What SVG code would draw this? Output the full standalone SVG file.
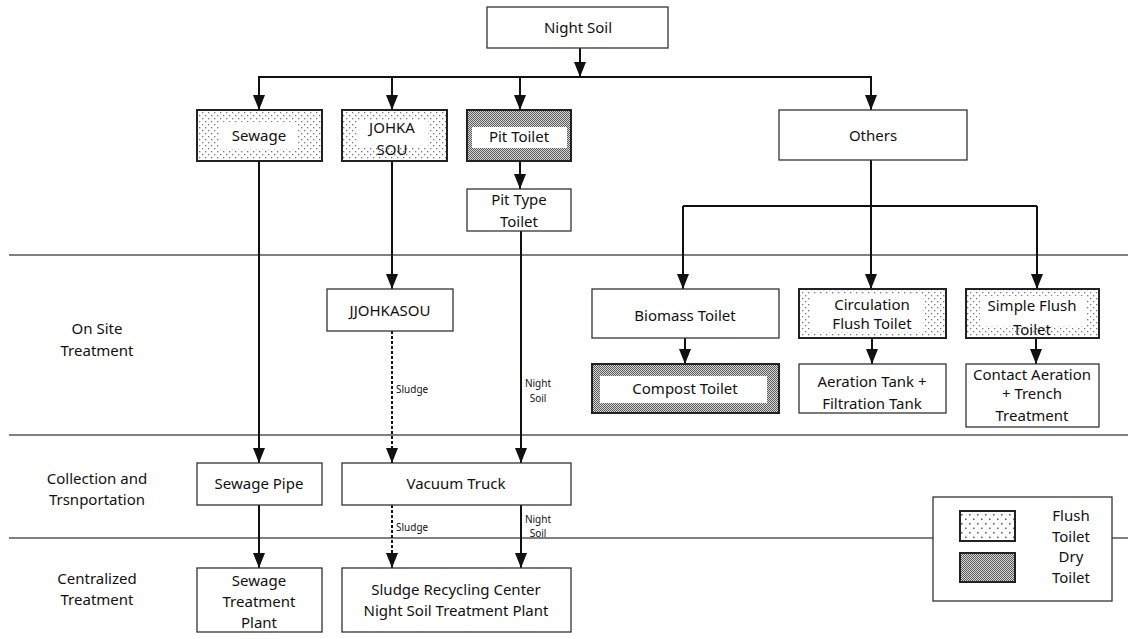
<svg xmlns="http://www.w3.org/2000/svg" width="1128" height="639" viewBox="0 0 1128 639">
<style>
.box{fill:#fff;stroke:#333;stroke-width:1.3}
.flush{fill:url(#dots);stroke:#222;stroke-width:2}
.dry{fill:url(#dense);stroke:#222;stroke-width:2}
.w{fill:#fff;stroke:none}
.t{font-family:"Noto Sans","Liberation Sans",sans-serif;font-size:15px;text-anchor:middle;fill:#111}
.s{font-size:10px}
.l{text-anchor:start}
.sec{stroke:#808080;stroke-width:2}
.c{stroke:#111;stroke-width:2;fill:none}
.a{marker-end:url(#ah)}
.d{stroke-dasharray:3 2}
</style>
<defs>
<marker id="ah" markerUnits="userSpaceOnUse" viewBox="0 0 15 12" markerWidth="15" markerHeight="12" refX="15" refY="6" orient="auto"><path d="M0,0 L15,6 L0,12 z" fill="#111"/></marker>
<pattern id="dots" width="6" height="6" patternUnits="userSpaceOnUse"><rect width="6" height="6" fill="#fff"/><rect x="1" y="1" width="1.3" height="1.3" fill="#777"/><rect x="4" y="4" width="1.3" height="1.3" fill="#777"/></pattern>
<pattern id="ldots" width="8" height="9" patternUnits="userSpaceOnUse"><rect width="8" height="9" fill="#fff"/><rect x="1" y="1" width="1.6" height="1.6" fill="#666"/><rect x="5" y="5.5" width="1.6" height="1.6" fill="#666"/></pattern>
<pattern id="dense" width="2" height="2" patternUnits="userSpaceOnUse"><rect width="2" height="2" fill="#d8d8d8"/><rect width="1" height="1" fill="#5a5a5a"/><rect x="1" y="1" width="1" height="1" fill="#5a5a5a"/></pattern>
</defs>
<rect width="1128" height="639" fill="#fff"/>
<g id="sections">
<line class="sec" x1="9" y1="255" x2="1128" y2="255"/>
<line class="sec" x1="9" y1="435" x2="1128" y2="435"/>
<line class="sec" x1="9" y1="538" x2="1128" y2="538"/>
<text class="t" x="97" y="334">On Site</text>
<text class="t" x="97" y="356">Treatment</text>
<text class="t" x="97" y="484">Collection and</text>
<text class="t" x="97" y="505">Trsnportation</text>
<text class="t" x="97" y="584">Centralized</text>
<text class="t" x="97" y="605">Treatment</text>
</g>
<g id="connectors">
<line class="c a" x1="580" y1="48" x2="580" y2="77"/>
<line class="c" x1="258" y1="77" x2="872" y2="77"/>
<line class="c a" x1="259" y1="77" x2="259" y2="110"/>
<line class="c a" x1="392" y1="77" x2="392" y2="110"/>
<line class="c a" x1="520" y1="77" x2="520" y2="110"/>
<line class="c a" x1="871" y1="77" x2="871" y2="110"/>
<line class="c a" x1="520" y1="161" x2="520" y2="189"/>
<line class="c a" x1="871" y1="160" x2="871" y2="289"/>
<line class="c" x1="683" y1="206" x2="1037" y2="206"/>
<line class="c a" x1="683" y1="206" x2="683" y2="289"/>
<line class="c a" x1="1037" y1="206" x2="1037" y2="289"/>
<line class="c a" x1="685" y1="338" x2="685" y2="364"/>
<line class="c a" x1="872" y1="338" x2="872" y2="364"/>
<line class="c a" x1="1036" y1="338" x2="1036" y2="364"/>
<line class="c a" x1="259" y1="161" x2="259" y2="463"/>
<line class="c a" x1="392" y1="161" x2="392" y2="289"/>
<line class="c d a" x1="392" y1="331" x2="392" y2="463"/>
<line class="c a" x1="521" y1="231" x2="521" y2="463"/>
<line class="c a" x1="259" y1="505" x2="259" y2="568"/>
<line class="c d a" x1="392" y1="505" x2="392" y2="568"/>
<line class="c a" x1="521" y1="505" x2="521" y2="568"/>
<text class="t s l" x="396" y="393">Sludge</text>
<text class="t s" x="538" y="387">Night</text>
<text class="t s" x="538" y="402">Soil</text>
<text class="t s l" x="396" y="531">Sludge</text>
<text class="t s" x="538" y="523">Night</text>
<text class="t s" x="538" y="537">Soil</text>
</g>
<g id="night-soil"><rect class="box" x="487" y="7" width="181" height="41"/><text class="t" x="578" y="33">Night Soil</text></g>
<g id="sewage"><rect class="flush" x="197" y="110" width="125" height="51"/><rect class="w" x="220" y="122" width="78" height="27"/><text class="t" x="259" y="141">Sewage</text></g>
<g id="johkasou"><rect class="flush" x="342" y="110" width="105" height="51"/><rect class="w" x="358" y="120" width="70" height="28"/><text class="t" x="392" y="133">JOHKA</text><text class="t" x="392" y="155">SOU</text></g>
<g id="pit-toilet"><rect class="dry" x="467" y="110" width="104" height="51"/><rect class="w" x="472" y="127" width="95" height="21"/><text class="t" x="519" y="142">Pit Toilet</text></g>
<g id="others"><rect class="box" x="779" y="110" width="188" height="50"/><text class="t" x="873" y="141">Others</text></g>
<g id="pit-type-toilet"><rect class="box" x="467" y="189" width="104" height="42"/><text class="t" x="519" y="205">Pit Type</text><text class="t" x="519" y="227">Toilet</text></g>
<g id="jjohkasou"><rect class="box" x="327" y="289" width="126" height="42"/><text class="t" x="390" y="316">JJOHKASOU</text></g>
<g id="biomass-toilet"><rect class="box" x="592" y="289" width="187" height="49"/><text class="t" x="685" y="321">Biomass Toilet</text></g>
<g id="circulation-flush-toilet"><rect class="flush" x="799" y="289" width="147" height="49"/><rect class="w" x="810" y="295" width="113" height="37"/><text class="t" x="872" y="310">Circulation</text><text class="t" x="872" y="329">Flush Toilet</text></g>
<g id="simple-flush-toilet"><rect class="flush" x="966" y="289" width="133" height="49"/><rect class="w" x="980" y="296" width="107" height="30"/><text class="t" x="1032" y="311">Simple Flush</text><text class="t" x="1032" y="335">Toilet</text></g>
<g id="compost-toilet"><rect class="dry" x="592" y="364" width="187" height="49"/><rect class="w" x="600" y="376" width="167" height="27"/><text class="t" x="685" y="394">Compost Toilet</text></g>
<g id="aeration-tank"><rect class="box" x="799" y="364" width="147" height="49"/><text class="t" x="872" y="387">Aeration Tank +</text><text class="t" x="872" y="409">Filtration Tank</text></g>
<g id="contact-aeration"><rect class="box" x="966" y="364" width="133" height="63"/><text class="t" x="1032" y="380">Contact Aeration</text><text class="t" x="1032" y="399">+ Trench</text><text class="t" x="1032" y="421">Treatment</text></g>
<g id="sewage-pipe"><rect class="box" x="197" y="463" width="125" height="42"/><text class="t" x="259" y="489">Sewage Pipe</text></g>
<g id="vacuum-truck"><rect class="box" x="342" y="463" width="229" height="42"/><text class="t" x="456" y="489">Vacuum Truck</text></g>
<g id="sewage-treatment-plant"><rect class="box" x="197" y="568" width="125" height="64"/><text class="t" x="259" y="586">Sewage</text><text class="t" x="259" y="607">Treatment</text><text class="t" x="259" y="628">Plant</text></g>
<g id="sludge-recycling-center"><rect class="box" x="342" y="568" width="229" height="64"/><text class="t" x="456" y="595">Sludge Recycling Center</text><text class="t" x="456" y="616">Night Soil Treatment Plant</text></g>
<g id="legend"><rect class="box" x="933" y="497" width="179" height="104"/><rect x="960" y="511" width="55" height="30" fill="url(#ldots)" stroke="#222" stroke-width="2"/><rect class="dry" x="960" y="553" width="55" height="29"/><text class="t" x="1071" y="521">Flush</text><text class="t" x="1071" y="542">Toilet</text><text class="t" x="1071" y="562">Dry</text><text class="t" x="1071" y="583">Toilet</text></g>
</svg>
